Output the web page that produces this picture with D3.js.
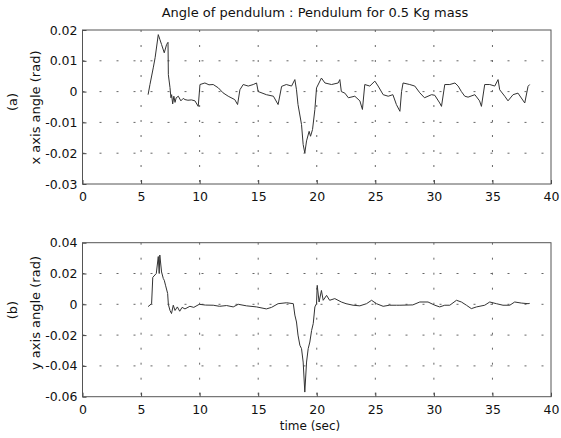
<!DOCTYPE html>
<html>
<head>
<meta charset="utf-8">
<script src="https://cdn.jsdelivr.net/npm/d3@7"></script>
<style>
  body { margin: 0; background: #fff; }
  svg { display: block; font-family: "DejaVu Sans", Arial, sans-serif; }
</style>
</head>
<body>
<div id="chart"></div>
<script>
// Data (time in sec, angle in rad)
const timeTicks = [0, 5, 10, 15, 20, 25, 30, 35, 40]
const xAngleTicks = [0.02, 0.01, 0, -0.01, -0.02, -0.03]
const yAngleTicks = [0.04, 0.02, 0, -0.02, -0.04, -0.06]

const xAngle = [
  [5.6, -0.001], [5.76, 0.0023], [6.04, 0.0077], [6.2, 0.011], [6.47, 0.0185],
  [6.6, 0.017], [6.75, 0.0153], [6.98, 0.0126], [7.18, 0.0153], [7.3, 0.016],
  [7.33, 0.0055], [7.47, 0.0013], [7.55, -0.002], [7.61, -0.001], [7.7, -0.004],
  [7.8, -0.0015], [7.9, -0.0035], [8.0, -0.002], [8.18, -0.0015], [8.4, -0.003],
  [8.6, -0.0022], [8.75, -0.0026], [9.0, -0.0028], [9.3, -0.0027], [9.6, -0.003],
  [9.88, -0.0048], [10.03, 0.0023], [10.45, 0.0028], [10.8, 0.0022], [11.16, 0.0023],
  [11.6, 0.0012], [12.0, -0.0004], [12.44, -0.0015], [13.0, -0.0026], [13.24, -0.0042],
  [13.44, 0.0006], [13.72, 0.0023], [14.15, 0.0018], [14.58, 0.0023], [14.86, 0.0028],
  [15.0, 0], [15.15, -0.0002], [15.7, -0.001], [16.3, -0.0015], [16.7, -0.0042],
  [17.0, 0.0017], [17.4, 0.0023], [17.85, 0.0018], [18.13, 0.0039], [18.27, 0.0006],
  [18.4, -0.0042], [18.7, -0.0107], [18.84, -0.0172], [18.98, -0.0199], [19.13, -0.016],
  [19.35, -0.0129], [19.47, -0.0145], [19.64, -0.0123], [19.84, -0.0058], [19.98, 0.0012],
  [20.4, 0.0044], [20.7, 0.0028], [21.26, 0.0023], [21.83, 0.0028], [21.97, 0.0039],
  [22.1, 0], [22.4, -0.0005], [22.7, -0.002], [23.25, -0.0015], [23.68, -0.003],
  [23.9, -0.0058], [24.1, 0.0023], [24.53, 0.0018], [24.96, 0.0034], [25.24, 0.0018],
  [25.67, -0.001], [26.1, -0.0015], [26.5, -0.001], [26.8, -0.0042], [27.1, -0.0064],
  [27.24, 0], [27.37, 0.0028], [27.94, 0.0023], [28.37, 0.0018], [28.8, -0.0004],
  [29.2, -0.002], [29.8, -0.001], [30.08, -0.0012], [30.5, -0.0037], [30.65, -0.0048],
  [30.93, 0.0023], [31.36, 0.0023], [31.8, 0.0028], [32.07, 0.0018], [32.35, 0],
  [32.64, -0.0015], [32.92, -0.0018], [33.5, -0.001], [33.9, -0.003], [34.06, -0.0048],
  [34.34, 0.0023], [34.77, 0.0023], [35.2, 0.0018], [35.48, 0.0039], [35.62, 0.0006],
  [36.05, -0.0015], [36.33, -0.003], [36.76, -0.001], [37.18, -0.0005], [37.76, -0.0037],
  [38.04, 0.0017], [38.18, 0.0023]
]

const yAngle = [
  [5.6, -0.0015], [5.9, 0.0004], [6.0, 0.0175], [6.3, 0.02], [6.47, 0.031],
  [6.55, 0.02], [6.6, 0.032], [6.75, 0.021], [6.9, 0.0167], [6.98, 0.0156],
  [7.1, 0.012], [7.27, 0.007], [7.33, 0], [7.47, -0.004], [7.6, -0.006],
  [7.75, -0.0006], [7.9, -0.004], [8.1, -0.0017], [8.3, -0.0045], [8.5, -0.002],
  [8.75, -0.003], [9.17, -0.0013], [9.5, -0.002], [9.97, 0], [10.5, -0.0005],
  [11.16, -0.0006], [11.7, -0.0013], [12.3, -0.0008], [12.87, -0.0017], [13.3, 0],
  [14.0, -0.001], [14.86, -0.0017], [15.7, -0.003], [16.14, -0.002], [16.7, 0.0004],
  [17.42, 0.001], [18.0, 0.0004], [18.13, -0.007], [18.27, -0.0115], [18.4, -0.02],
  [18.56, -0.0266], [18.7, -0.0288], [18.84, -0.0375], [18.98, -0.057], [19.13, -0.0375],
  [19.27, -0.0288], [19.41, -0.0245], [19.56, -0.017], [19.7, -0.0125], [19.84, -0.0017],
  [19.98, 0.0004], [20.04, 0.0123], [20.2, 0.0015], [20.4, 0.009], [20.55, 0.0026],
  [20.84, 0.0058], [21.1, 0.0026], [21.54, 0.0037], [22.1, 0.0015], [22.5, 0.0004],
  [23.1, -0.0006], [23.68, -0.001], [24.25, 0.0004], [24.68, 0.0026], [25.1, 0.0004],
  [25.67, -0.0013], [26.2, -0.0006], [26.8, -0.0006], [27.1, -0.0006], [28.2, -0.0004],
  [28.8, 0.0015], [29.5, 0.0015], [30.08, -0.0006], [30.5, -0.0017], [30.93, -0.0006],
  [31.36, -0.0006], [31.93, 0.0026], [32.35, 0.0015], [32.78, -0.0006], [33.2, -0.0028],
  [33.64, -0.0017], [34.34, -0.0006], [34.77, 0.0015], [35.34, 0.0004], [35.9, -0.0006],
  [36.48, -0.0006], [36.9, 0.0015], [37.47, 0.0008], [38.04, 0.0004], [38.18, 0.0006]
]

function draw() {
  // Dimensions
  const dimensions = {
    width: 561,
    height: 438,
    left: 82.5,
    right: 551,
    plotHeight: 154,
  }

  const svg = d3.select('#chart')
    .append('svg')
    .attr('width', dimensions.width)
    .attr('height', dimensions.height)

  const xScale = d3.scaleLinear()
    .domain([0, 40])
    .range([dimensions.left, dimensions.right])

  // plain hyphen for negatives, like the original
  const tickFmt = d => d === 0 ? '0' : d3.format('.2f')(d).replace('\u2212', '-')

  const panels = [
    { top: 30, data: xAngle, ticks: xAngleTicks, label: 'x axis angle (rad)', tag: '(a)',
      labelY: 107.5, tagY: 102 },
    { top: 242.7, data: yAngle, ticks: yAngleTicks, label: 'y axis angle (rad)', tag: '(b)',
      labelY: 313, tagY: 310 },
  ]

  panels.forEach(p => {
    const bottom = p.top + dimensions.plotHeight
    const yScale = d3.scaleLinear()
      .domain(d3.extent(p.ticks))
      .range([bottom, p.top])

    const g = svg.append('g')

    // Grid
    g.append('g')
      .selectAll('line')
      .data(timeTicks.slice(1, -1))
      .join('line')
      .attr('x1', d => xScale(d))
      .attr('x2', d => xScale(d))
      .attr('y1', p.top)
      .attr('y2', bottom)
      .attr('stroke', '#666')
      .attr('stroke-dasharray', '2,13')

    g.append('g')
      .selectAll('line')
      .data(p.ticks.slice(1, -1))
      .join('line')
      .attr('x1', dimensions.left)
      .attr('x2', dimensions.right)
      .attr('y1', d => yScale(d))
      .attr('y2', d => yScale(d))
      .attr('stroke', '#666')
      .attr('stroke-dasharray', '2,15')

    // Axes
    const xAxis = d3.axisBottom(xScale)
      .tickValues(timeTicks)
      .tickFormat(d3.format('d'))
      .tickSize(-4)
      .tickPadding(8)
    const yAxis = d3.axisLeft(yScale)
      .tickValues(p.ticks)
      .tickFormat(tickFmt)
      .tickSize(-4)
      .tickPadding(5)

    const xg = g.append('g')
      .attr('transform', `translate(0, ${bottom})`)
      .call(xAxis)
    const yg = g.append('g')
      .attr('transform', `translate(${dimensions.left}, 0)`)
      .call(yAxis)

    ;[xg, yg].forEach(a => {
      a.select('.domain').remove()
      a.selectAll('line').attr('stroke', '#444')
      a.selectAll('text')
        .attr('fill', '#111')
        .style('font-size', '12.5px')
        .style('font-family', '"DejaVu Sans", Arial, sans-serif')
    })

    // Frame
    g.append('rect')
      .attr('x', dimensions.left)
      .attr('y', p.top)
      .attr('width', dimensions.right - dimensions.left)
      .attr('height', dimensions.plotHeight)
      .attr('fill', 'none')
      .attr('stroke', '#555')
      .attr('stroke-width', 1)

    // Signal
    const line = d3.line()
      .x(d => xScale(d[0]))
      .y(d => yScale(d[1]))

    g.append('path')
      .datum(p.data)
      .attr('d', line)
      .attr('fill', 'none')
      .attr('stroke', '#333')
      .attr('stroke-width', 1)

    // Y label
    g.append('text')
      .attr('transform', `translate(40, ${p.labelY}) rotate(-90)`)
      .attr('text-anchor', 'middle')
      .style('font-size', '13px')
      .attr('fill', '#111')
      .text(p.label)

    g.append('text')
      .attr('transform', `translate(17, ${p.tagY}) rotate(-90)`)
      .attr('text-anchor', 'middle')
      .style('font-size', '13px')
      .attr('fill', '#111')
      .text(p.tag)
  })

  // Title and x label
  svg.append('text')
    .attr('x', 315)
    .attr('y', 17)
    .attr('text-anchor', 'middle')
    .style('font-size', '13px')
    .attr('fill', '#111')
    .text('Angle of pendulum : Pendulum for 0.5 Kg mass')

  svg.append('text')
    .attr('x', 310)
    .attr('y', 430)
    .attr('text-anchor', 'middle')
    .style('font-size', '12px')
    .attr('fill', '#111')
    .text('time (sec)')
}

draw()
</script>
</body>
</html>
